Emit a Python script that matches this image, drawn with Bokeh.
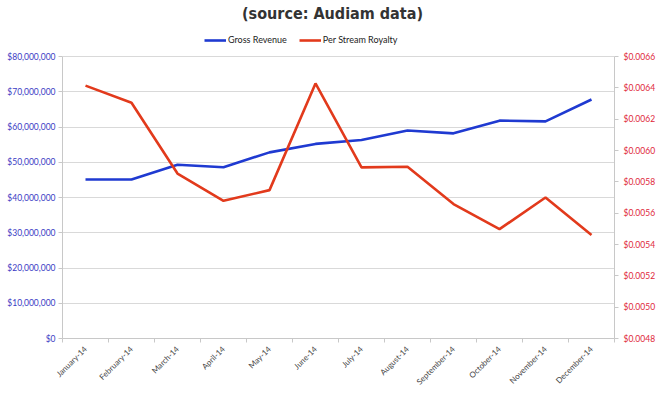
import math
from bokeh.plotting import figure
from bokeh.models import (Range1d, LinearAxis, SingleIntervalTicker, NumeralTickFormatter,
                          FixedTicker, Legend, LegendItem, Label, Grid)
from bokeh.embed import file_html
from bokeh.resources import INLINE

months = ["January-14", "February-14", "March-14", "April-14", "May-14", "June-14",
          "July-14", "August-14", "September-14", "October-14", "November-14", "December-14"]
gross_revenue = [45.1e6, 45.1e6, 49.3e6, 48.6e6, 52.8e6, 55.2e6,
                 56.3e6, 59.0e6, 58.2e6, 61.8e6, 61.6e6, 67.8e6]
per_stream_royalty = [0.006414, 0.006305, 0.005853, 0.005679, 0.005747, 0.006428,
                      0.005892, 0.005896, 0.005658, 0.005498, 0.005700, 0.005460]
left_range = (0, 80e6)
right_range = (0.0048, 0.0066)
title_text = "(source: Audiam data)"

BLUE = "#1f3ad1"
RED = "#e23a1c"
LBL_BLUE = "#3b3bc4"
LBL_RED = "#e0283a"
FONT = "Lato"

# layout geometry (pixels): the frame runs up to the top of the canvas, the
# visible chart area (axes / grid) covers only its lower part
W, H = 662, 393
FRAME_TOP, PLOT_TOP, PLOT_BOTTOM = 0, 56, 338
frac = (PLOT_BOTTOM - FRAME_TOP) / (PLOT_BOTTOM - PLOT_TOP)
left_end = left_range[0] + (left_range[1] - left_range[0]) * frac
right_end = right_range[0] + (right_range[1] - right_range[0]) * frac

xs = [i + 0.5 for i in range(len(months))]

p = figure(width=W, height=H, output_backend="svg", toolbar_location=None,
           x_range=Range1d(0, len(months)), y_range=Range1d(left_range[0], left_end),
           x_axis_type=None, y_axis_type=None,
           min_border_left=62, min_border_right=48, min_border_top=FRAME_TOP,
           min_border_bottom=H - PLOT_BOTTOM)
p.outline_line_color = None
p.background_fill_color = "white"
p.extra_y_ranges = {"royalty": Range1d(right_range[0], right_end)}

# left axis
la = LinearAxis(ticker=SingleIntervalTicker(interval=10e6),
                formatter=NumeralTickFormatter(format="$0,0"), bounds=left_range)
la.axis_line_color = "#c8c8c8"
la.major_tick_line_color = "#c8c8c8"
la.major_tick_out = 4
la.major_tick_in = 0
la.minor_tick_line_color = None
la.major_label_standoff = 3
la.major_label_text_font = FONT
la.major_label_text_font_size = "8.5px"
la.major_label_text_color = LBL_BLUE
p.add_layout(la, "left")

# right axis
ra = LinearAxis(y_range_name="royalty", ticker=SingleIntervalTicker(interval=0.0002),
                formatter=NumeralTickFormatter(format="$0.0000"), bounds=right_range)
ra.axis_line_color = "#c8c8c8"
ra.major_tick_line_color = "#c8c8c8"
ra.major_tick_out = 4
ra.major_tick_in = 0
ra.minor_tick_line_color = None
ra.major_label_standoff = 5
ra.major_label_text_font = FONT
ra.major_label_text_font_size = "8.5px"
ra.major_label_text_color = LBL_RED
p.add_layout(ra, "right")

# bottom axis
ba = LinearAxis(ticker=FixedTicker(ticks=xs, minor_ticks=list(range(len(months) + 1))))
ba.major_label_overrides = {x: m for x, m in zip(xs, months)}
ba.major_label_orientation = math.pi / 4
ba.axis_line_color = "#c8c8c8"
ba.major_tick_line_color = None
ba.minor_tick_line_color = "#c8c8c8"
ba.minor_tick_out = 4
ba.minor_tick_in = 0
ba.major_label_standoff = 3
ba.major_label_text_font = FONT
ba.major_label_text_font_size = "8px"
ba.major_label_text_color = "#444444"
p.add_layout(ba, "below")

p.add_layout(Grid(dimension=1, ticker=la.ticker, bounds=left_range,
                  grid_line_color="#d9d9d9", grid_line_width=1.2))

r1 = p.line(xs, gross_revenue, line_color=BLUE, line_width=2.6)
r2 = p.line(xs, per_stream_royalty, y_range_name="royalty", line_color=RED, line_width=2.6)

legend = Legend(items=[LegendItem(label="Gross Revenue", renderers=[r1]),
                       LegendItem(label="Per Stream Royalty", renderers=[r2])],
                orientation="horizontal", location=(142, PLOT_BOTTOM - 45))
legend.padding = 0
legend.margin = 0
legend.spacing = 12
legend.glyph_width = 22
legend.glyph_height = 10
legend.label_height = 10
legend.label_standoff = 2
legend.label_text_font = FONT
legend.label_text_font_size = "9px"
legend.label_text_color = "#222222"
legend.background_fill_alpha = 0
legend.border_line_alpha = 0
p.add_layout(legend)

title = Label(x=332 - 62, y=PLOT_BOTTOM - 13, x_units="screen", y_units="screen",
              text=title_text, text_align="center", text_baseline="middle",
              text_font="DejaVu Sans Condensed", text_font_size="16px",
              text_font_style="bold", text_color="#333333")
p.add_layout(title)

open("out.html", "w").write(file_html(p, INLINE))
